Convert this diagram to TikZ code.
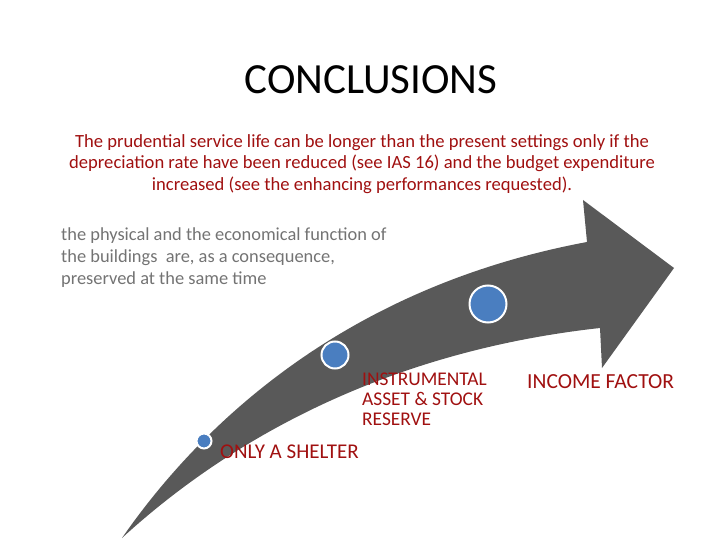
\documentclass[tikz,border=0pt]{standalone}
\usepackage{fontspec}
\setmainfont{Carlito}
\begin{document}
\begin{tikzpicture}[x=1pt,y=-1pt,
  lbl/.style={text=rtxt,inner sep=0},
  dot/.style={circle,draw=white,line width=2pt,inner sep=0}]
\definecolor{dotc}{HTML}{4A7EC0}
\definecolor{arr}{HTML}{595959}
\definecolor{rtxt}{HTML}{A01010}
\useasboundingbox (0,0) rectangle (720,540);
\node (title) at (371,80) {\fontsize{43}{48}\selectfont CONCLUSIONS};
\node[text=rtxt,font=\fontsize{18.6}{21.5}\selectfont,align=center] (para) at (362,164)
 {The prudential service life can be longer than the present settings only if the\\
  depreciation rate have been reduced (see IAS 16) and the budget expenditure\\
  increased (see the enhancing performances requested).};
\fill[arr] (122,538) .. controls (190,440) and (330,290) .. (587,242) -- (583,200)
  -- (674,268) -- (602,368) -- (600,328) .. controls (400,350) and (240,430) .. (122,538);
\node[text=gray!90!black,font=\fontsize{18.4}{22}\selectfont,align=left,anchor=north west,inner sep=0] (grey) at (61,228)
 {the physical and the economical function of\\ the buildings\ \ are, as a consequence,\\ preserved at the same time};
\node[dot,fill=dotc,minimum size=15pt] (d1) at (204,441) {};
\node[dot,fill=dotc,minimum size=27pt] (d2) at (335,355) {};
\node[dot,fill=dotc,minimum size=37pt] (d3) at (488,304) {};
\node[lbl,anchor=west,font=\fontsize{21}{24}\selectfont] (l1) at (220,452) {ONLY A SHELTER};
\node[lbl,anchor=north west,align=left,font=\fontsize{19.4}{20}\selectfont] (l2) at (362,373) {INSTRUMENTAL\\ASSET \& STOCK\\RESERVE};
\node[lbl,anchor=west,font=\fontsize{21.5}{24}\selectfont] (l3) at (527,382) {INCOME FACTOR};
\end{tikzpicture}
\end{document}
